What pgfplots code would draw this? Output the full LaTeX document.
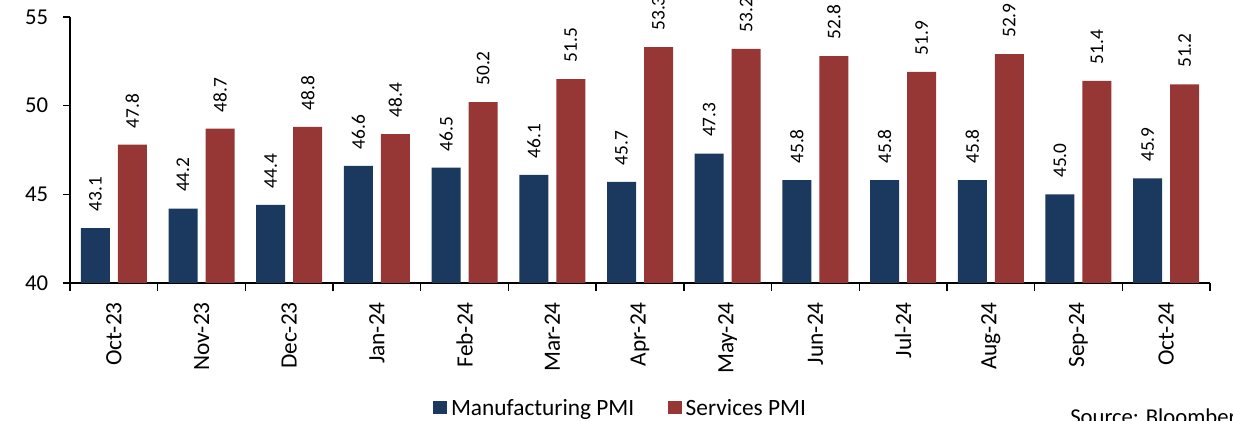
\documentclass[border=0pt]{standalone}
\usepackage{pgfplots}
\pgfplotsset{compat=1.18}
\usepackage{fontspec}
\setmainfont{Carlito}
\definecolor{mfgblue}{HTML}{1B385E}
\definecolor{svcred}{HTML}{963735}

% Monthly PMI readings
\pgfplotstableread{
idx mfg svc
0  43.1 47.8
1  44.2 48.7
2  44.4 48.8
3  46.6 48.4
4  46.5 50.2
5  46.1 51.5
6  45.7 53.3
7  47.3 53.2
8  45.8 52.8
9  45.8 51.9
10 45.8 52.9
11 45.0 51.4
12 45.9 51.2
}\pmidata

\begin{document}
\begin{tikzpicture}
\useasboundingbox (0,0) rectangle (924.75pt,315.75pt);
\clip (0,0) rectangle (924.75pt,315.75pt);
\begin{axis}[
  at={(52.5pt,103.5pt)}, anchor=south west,
  scale only axis, width=855pt, height=199.5pt,
  /pgf/number format/assume math mode=true,
  ybar=6pt, bar width=21.75pt,
  xmin=-0.5, xmax=12.5, ymin=40, ymax=55,
  axis lines*=left,
  axis line style={line width=1pt, black},
  clip=false,
  xtick={0,...,12},
  xticklabels={Oct-23,Nov-23,Dec-23,Jan-24,Feb-24,Mar-24,Apr-24,May-24,Jun-24,Jul-24,Aug-24,Sep-24,Oct-24},
  minor xtick={-0.5,0.5,...,12.5},
  major x tick style={draw=none},
  minor x tick style={line width=1pt, black},
  minor tick length=6pt,
  ytick={40,45,50,55},
  major y tick style={line width=1pt, black},
  major tick length=5.25pt,
  tick align=outside,
  xticklabel style={rotate=90, anchor=east, inner xsep=0pt, inner ysep=0pt, font=\fontsize{17.5}{19}\selectfont, xshift=-9pt},
  yticklabel style={anchor=east, inner sep=0pt, font=\fontsize{17}{19}\selectfont, xshift=-11pt},
  yticklabel={\pgfmathprintnumber[fixed,precision=0]{\tick}},
  nodes near coords={\pgfmathprintnumber[fixed,fixed zerofill,precision=1]{\pgfplotspointmeta}},
  every node near coord/.append style={rotate=90, anchor=west, inner xsep=0pt, inner ysep=0pt, xshift=12.25pt, font=\fontsize{14.5}{16}\selectfont, black},
  legend style={at={(0.4838,-0.47)}, anchor=center, draw=none, fill=none,
    legend columns=2, font=\fontsize{17.5}{19}\selectfont,
    /tikz/every even column/.append style={column sep=22pt},
    nodes={inner xsep=3pt}},
]
\addplot[fill=mfgblue, draw=none,
  legend image code/.code={\fill[mfgblue] (0pt,-4.5pt) rectangle (10.5pt,5pt);}]
  table[x=idx, y=mfg] {\pmidata};
\addlegendentry{Manufacturing PMI}
\addplot[fill=svcred, draw=none,
  legend image code/.code={\fill[svcred] (0pt,-4.5pt) rectangle (10.5pt,5pt);}]
  table[x=idx, y=svc] {\pmidata};
\addlegendentry{Services PMI}
\end{axis}
\node[anchor=base west, inner sep=0pt, font=\fontsize{17}{19}\selectfont] at (802.5pt,-3pt) {Source: Bloomberg};
\end{tikzpicture}
\end{document}
